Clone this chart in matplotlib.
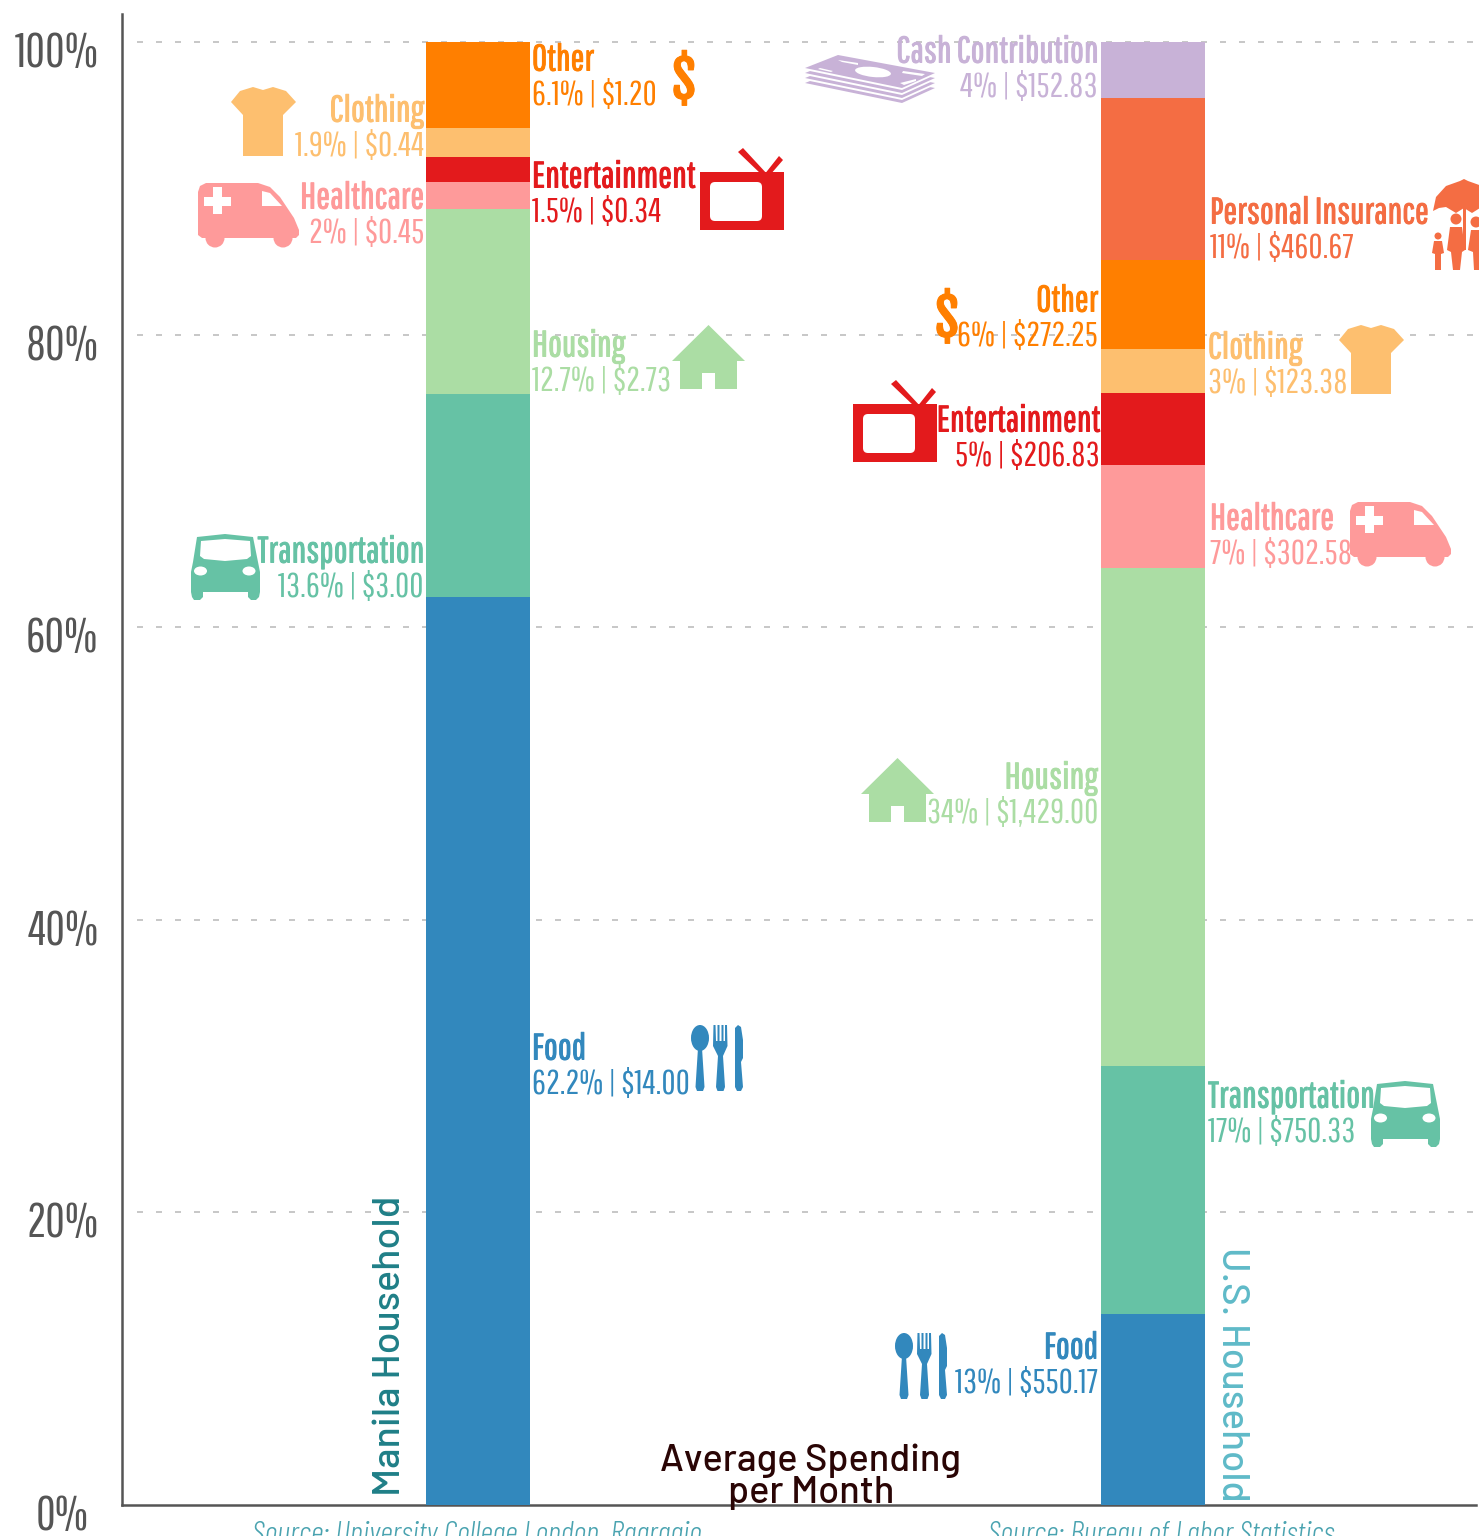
import matplotlib
matplotlib.use("Agg")
import matplotlib.pyplot as plt
from matplotlib.patches import Polygon, Circle, Ellipse, Rectangle, FancyBboxPatch
from matplotlib.transforms import Affine2D, ScaledTranslation
import matplotlib.patheffects as pe

W, H = 1479, 1536
FONT = ["Pathway Gothic One", "Liberation Sans", "DejaVu Sans"]
DIN = ["Barlow", "Noto Sans", "DejaVu Sans"]
SRC = ["Barlow Condensed", "Liberation Sans", "DejaVu Sans"]
BOLD = ["Fjalla One", "Liberation Sans", "DejaVu Sans"]

households = ["Manila Household", "U.S. Household"]
manila_categories = ["Food", "Transportation", "Housing", "Healthcare", "Entertainment", "Clothing", "Other"]
manila_share = [62.05, 13.9, 12.65, 1.85, 1.7, 1.95, 5.9]
manila_labels = ["62.2% | $14.00", "13.6% | $3.00", "12.7% | $2.73", "2% | $0.45", "1.5% | $0.34", "1.9% | $0.44", "6.1% | $1.20"]
us_categories = ["Food", "Transportation", "Housing", "Healthcare", "Entertainment", "Clothing", "Other", "Personal Insurance", "Cash Contribution"]
us_share = [13.05, 16.95, 34.05, 7.05, 4.9, 3.0, 6.1, 11.1, 3.8]
us_labels = ["13% | $550.17", "17% | $750.33", "34% | $1,429.00", "7% | $302.58", "5% | $206.83", "3% | $123.38", "6% | $272.25", "11% | $460.67", "4% | $152.83"]
ytick_values = [0, 20, 40, 60, 80, 100]
ytick_labels = ["0%", "20%", "40%", "60%", "80%", "100%"]
colors = {"Food": "#3288bd", "Transportation": "#66c2a5", "Housing": "#abdda4", "Healthcare": "#fe9a9a",
          "Entertainment": "#e31a1c", "Clothing": "#fdbf6f", "Other": "#ff7f00",
          "Personal Insurance": "#f46d43", "Cash Contribution": "#c8b2d7"}

fig = plt.figure(figsize=(W / 100, H / 100), dpi=100, facecolor="white")
ax = fig.add_axes([122 / W, 1 - 1505 / H, (1476 - 122) / W, (1505 - 14) / H])
ax.set_xlim((122 - 478) / 675, (1476 - 478) / 675)
ax.set_ylim(0, (1505 - 14) / 14.63)

for xpos, cats, vals in [(0, manila_categories, manila_share), (1, us_categories, us_share)]:
    bottom = 0
    for c, v in zip(cats, vals):
        ax.bar(xpos, v, 0.154, bottom=bottom, color=colors[c], zorder=3, linewidth=0)
        bottom += v

for s in ["top", "right"]:
    ax.spines[s].set_visible(False)
for s in ["left", "bottom"]:
    ax.spines[s].set_color("#555555")
    ax.spines[s].set_linewidth(1.8)
ax.set_xticks([])
ax.set_yticks(ytick_values, ytick_labels, fontfamily=FONT, fontsize=34.5, color="#555555")
ax.tick_params(axis="y", length=0, pad=17)
for lab, yv in zip(ax.get_yticklabels(), ytick_values):
    off = ScaledTranslation(-0.10 if yv == 0 else 0, -7 / 100, fig.dpi_scale_trans)
    lab.set_transform(lab.get_transform() + off)
for yv in ytick_values[1:]:
    ax.plot([(137 - 478) / 675, (1479 - 478) / 675], [yv, yv], color="#c8c8c8", lw=1.44,
            dashes=(3, 6.5), zorder=1, clip_on=False)

PX = Affine2D().scale(1, -1).translate(0, H)


def txt(x, y, s, color, ha="left", size=26.5, heavy=False, **kw):
    t = fig.text(x, y, s, color=color, ha=ha, va="baseline", fontsize=size, fontfamily=kw.pop("family", FONT),
                 transform=PX, **kw)
    if heavy:
        t.set_path_effects([pe.withStroke(linewidth=0.7, foreground=color)])
    return t


def label(x, y, cat, val, ha):
    txt(x, y - 2.5, cat, colors[cat], ha, heavy=True)
    txt(x, y + 32, val, colors[cat], ha, size=24.8)


m_pos = {"Other": (532, 73, "left"), "Entertainment": (532, 190, "left"), "Housing": (532, 359, "left"),
         "Food": (532, 1062, "left"), "Clothing": (424, 124, "right"), "Healthcare": (424, 211, "right"),
         "Transportation": (424, 565, "right")}
u_pos = {"Cash Contribution": (1098, 65, "right"), "Other": (1098, 314, "right"),
         "Entertainment": (1100, 434, "right"), "Housing": (1098, 791, "right"), "Food": (1098, 1361, "right"),
         "Personal Insurance": (1210, 226, "left"), "Clothing": (1208, 361, "left"),
         "Healthcare": (1210, 532, "left"), "Transportation": (1208, 1110, "left")}
for c, v in zip(manila_categories, manila_labels):
    label(*m_pos[c][:2], c, v, m_pos[c][2])
for c, v in zip(us_categories, us_labels):
    label(*u_pos[c][:2], c, v, u_pos[c][2])


def add(p):
    p.set_transform(PX)
    p.set_clip_on(False)
    p.set_linewidth(0)
    fig.add_artist(p)


def poly(pts, color, dx=0, dy=0):
    add(Polygon([(x + dx, y + dy) for x, y in pts], closed=True, facecolor=color))


def shirt(dx, dy):
    c = colors["Clothing"]
    poly([(231, 102), (243, 115), (243, 156), (283, 156), (283, 115), (296, 102), (286, 91), (273, 87), (263, 90),
          (253, 87), (240, 91)], c, dx, dy)


def ambulance(dx, dy):
    c = colors["Healthcare"]
    poly([(198, 192), (200, 186), (206, 183), (258, 183), (270, 187), (280, 197), (294, 218), (299, 230), (299, 235),
          (296, 238), (202, 238), (198, 235)], c, dx, dy)
    add(Circle((215 + dx, 238 + dy), 9.5, facecolor=c))
    add(Circle((283 + dx, 238 + dy), 9.5, facecolor=c))
    add(Rectangle((203.5 + dx, 196.5 + dy), 27, 9, facecolor="white"))
    add(Rectangle((212.5 + dx, 187 + dy), 9.5, 27, facecolor="white"))
    poly([(262, 191), (262, 206), (282, 206), (270, 193)], "white", dx, dy)


def tv(dx, dy):
    c = colors["Entertainment"]
    add(Rectangle((700 + dx, 172 + dy), 84, 58, facecolor=c))
    add(FancyBboxPatch((714 + dx, 186 + dy), 44, 31, boxstyle="round,pad=4,rounding_size=5", facecolor="white"))
    poly([(738, 152), (743, 148), (768, 175), (762, 175)], c, dx, dy)
    poly([(764, 175), (779, 156), (783, 160), (770, 175)], c, dx, dy)


def house(dx, dy):
    c = colors["Housing"]
    poly([(708.5, 325), (745, 361), (737, 361), (737, 389), (715, 389), (715, 373), (702, 373), (702, 389), (680, 389),
          (680, 361), (672, 361)], c, dx, dy)


def cutlery(dx, dy):
    c = colors["Food"]
    add(Ellipse((700 + dx, 1038 + dy), 18, 26, facecolor=c))
    poly([(698, 1048), (702, 1048), (704.5, 1087), (703, 1091), (697, 1091), (695.5, 1087)], c, dx, dy)
    poly([(713.5, 1025), (715.5, 1025), (716, 1041), (717.5, 1041), (717.5, 1025), (719.5, 1025), (719.5, 1041),
          (721.5, 1041), (721.5, 1025), (723.5, 1025), (723.5, 1041), (725, 1041), (725, 1025), (727, 1025), (727.5, 1046),
          (723, 1056), (725, 1087), (723.5, 1091), (717.5, 1091), (716, 1087), (718, 1056), (713, 1046)], c, dx, dy)
    poly([(735, 1028), (738, 1025), (741, 1027), (743, 1040), (743, 1058), (741, 1062), (743, 1087), (741, 1091),
          (737, 1091), (735, 1087)], c, dx, dy)


def van(dx, dy):
    c = colors["Transportation"]
    poly([(197, 537), (225, 534), (253, 537), (258, 562), (260, 572), (260, 592), (259, 597), (256, 600), (251, 600),
          (248, 597), (248, 592), (203, 592), (203, 597), (200, 600), (194, 600), (192, 597), (191, 592), (191, 572),
          (193, 562)], c, dx, dy)
    poly([(201, 541), (225, 539), (250, 541), (251, 556), (247, 559), (225, 561), (204, 559), (200, 556)], "white", dx, dy)
    add(Ellipse((200.5 + dx, 571 + dy), 13, 9, facecolor="white"))
    add(Ellipse((249 + dx, 571 + dy), 13, 9, facecolor="white"))


def money():
    c = colors["Cash Contribution"]
    note = [(805, 68), (838, 55), (935, 73), (902, 88)]
    for shift in (15, 10, 5):
        poly(note, c, 0, shift)
        poly(note, "white", 0, shift - 3)
    poly(note, c)
    add(Ellipse((873, 72), 36, 10, angle=6, facecolor="white"))
    poly([(838, 60), (858, 63), (858, 65), (842, 62)], "white")
    poly([(820, 68), (833, 71), (831, 72), (818, 69)], "white")
    poly([(900, 83), (916, 79), (916, 81), (904, 85)], "white")
    poly([(903, 71), (925, 74), (922, 76), (902, 73)], "white")


def umbrella():
    c = colors["Personal Insurance"]
    pts = [(1433, 211), (1436, 197), (1446, 186), (1460, 181), (1464, 179), (1468, 181), (1482, 186), (1490, 200),
           (1490, 211), (1480, 208), (1472, 213), (1464, 208), (1456, 213), (1446, 207), (1439, 208)]
    poly(pts, c)
    add(Rectangle((1463, 208), 3, 42, facecolor=c))
    add(Circle((1456, 219), 5.5, facecolor=c))
    poly([(1450, 227), (1462, 227), (1465, 250), (1462, 252), (1460, 270), (1453, 270), (1451, 252), (1447, 250)], c)
    add(Circle((1438, 236), 3.5, facecolor=c))
    poly([(1434, 241), (1442, 241), (1444, 253), (1441, 254), (1441, 270), (1435, 270), (1435, 254), (1432, 253)], c)
    add(Circle((1476, 222), 5.5, facecolor=c))
    poly([(1471, 230), (1485, 230), (1485, 270), (1474, 270), (1473, 252), (1468, 250)], c)


shirt(0, 0); shirt(1108, 238)
ambulance(0, 0); ambulance(1152, 319)
tv(0, 0); tv(153, 232)
house(0, 0); house(189, 433)
cutlery(0, 0); cutlery(204, 308)
van(0, 0); van(1180, 547)
money(); umbrella()
txt(684, 99, "$", colors["Other"], "center", size=37, family=BOLD, heavy=True)
txt(947, 337, "$", colors["Other"], "center", size=37, family=BOLD, heavy=True)

fig.text(390, 1346, households[0], color="#1f7f87", rotation=90, ha="center", va="center", fontsize=28.3,
         fontfamily=DIN, fontweight=500, transform=PX)
fig.text(1232, 1374, households[1], color="#5fbac8", rotation=270, ha="center", va="center", fontsize=27.7,
         fontfamily=DIN, fontweight=500, transform=PX)
fig.text(811, 1471, "Average Spending", color="#2a0505", ha="center", va="baseline", fontsize=27.3, fontfamily=DIN,
         fontweight=500, transform=PX)
fig.text(811, 1503, "per Month", color="#2a0505", ha="center", va="baseline", fontsize=27.3, fontfamily=DIN,
         fontweight=500, transform=PX)
txt(252, 1543, "Source: University College London, Ragragio", "#4aa3b0", size=22.8, family=SRC, fontstyle="italic", fontweight=300)
txt(988, 1543, "Source: Bureau of Labor Statistics", "#4aa3b0", size=22.5, family=SRC, fontstyle="italic", fontweight=300)

fig.savefig("out.png", dpi=100, facecolor="white")
